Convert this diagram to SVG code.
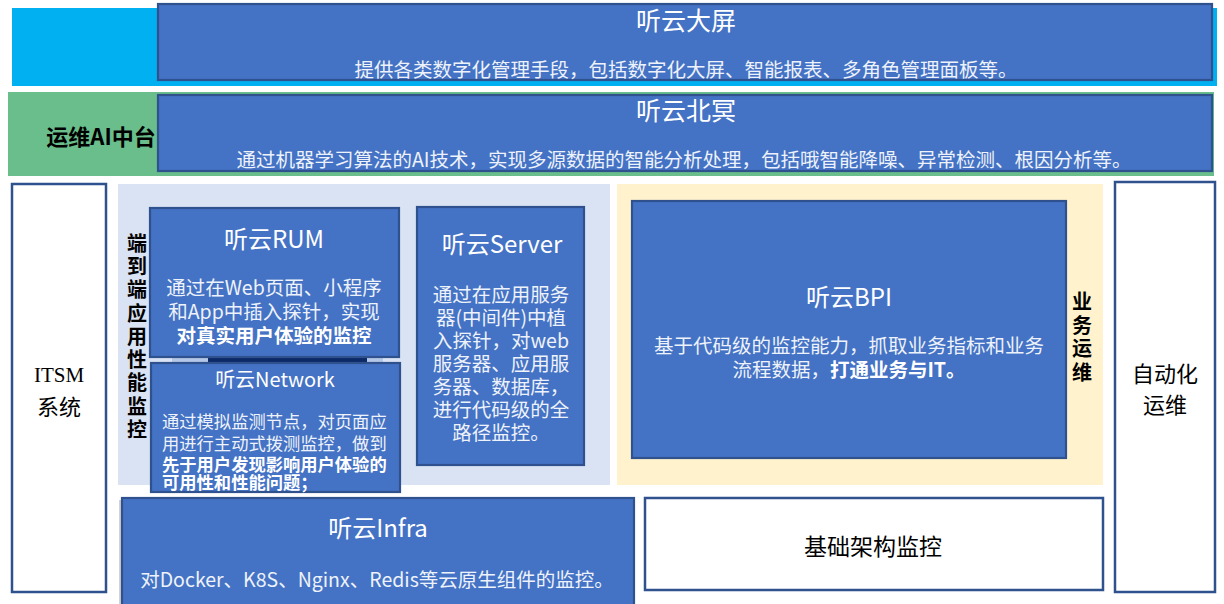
<svg xmlns="http://www.w3.org/2000/svg" width="1224" height="604" viewBox="0 0 1224 604">
<style>
text{font-family:"Noto Sans CJK SC","Noto Sans",sans-serif;dominant-baseline:central}
.box{fill:#4472C4;stroke:#2F528F;stroke-width:2.2}
.wbox{fill:#FFFFFF;stroke:#2F528F;stroke-width:2.5}
.t{fill:#FFFFFF;text-anchor:middle;font-size:25px}
.t24{font-size:24px}
.t20{font-size:20px}
.d{fill:#EEF2FA;text-anchor:middle;font-size:19.5px}
.n{fill:#EEF2FA;font-size:17.3px}
.b{font-weight:bold;fill:#FFFFFF}
.lbl{fill:#000000;font-weight:bold;font-size:20px;text-anchor:middle}
.big{font-size:22px}
.k{fill:#000000;text-anchor:middle;font-size:22px}
.k23{font-size:23px}
.serif{font-family:"Liberation Serif",serif;font-size:21px}
</style>
<rect width="1224" height="604" fill="#FFFFFF"/>
<g id="band-top">
<rect x="12" y="8" width="1205" height="78" fill="#00B0F0"/>
</g>
<g id="band-ai">
<rect x="8" y="92" width="1206" height="84" fill="#69BE8C"/>
<text x="101" y="135" class="lbl big">运维AI中台</text>
</g>
<g id="apm-bg">
<rect x="118" y="184" width="492" height="301" fill="#DAE3F3"/>
<g class="lbl"><text x="137" y="242">端</text><text x="137" y="265">到</text><text x="137" y="288">端</text><text x="137" y="312">应</text><text x="137" y="335">用</text><text x="137" y="358">性</text><text x="137" y="381">能</text><text x="137" y="405">监</text><text x="137" y="428">控</text></g>
</g>
<g id="biz-bg">
<rect x="617" y="184" width="486" height="301" fill="#FFF2CC"/>
<g class="lbl"><text x="1082" y="300">业</text><text x="1082" y="324">务</text><text x="1082" y="347">运</text><text x="1082" y="371">维</text></g>
</g>
<g id="dapin">
<rect class="box" x="158" y="4" width="1054" height="76"/>
<text class="t" x="686" y="19">听云大屏</text>
<text class="d" x="686" y="68">提供各类数字化管理手段，包括数字化大屏、智能报表、多角色管理面板等。</text>
</g>
<g id="beiming">
<rect class="box" x="158" y="95" width="1054" height="76"/>
<text class="t" x="686" y="109">听云北冥</text>
<text class="d" x="684" y="158">通过机器学习算法的AI技术，实现多源数据的智能分析处理，包括哦智能降噪、异常检测、根因分析等。</text>
</g>
<g id="itsm">
<rect class="wbox" x="12" y="184" width="94" height="408"/>
<text class="k serif" x="59" y="375">ITSM</text>
<text class="k" x="59" y="405">系统</text>
</g>
<g id="hidden-strip">
<rect x="172" y="357" width="211" height="8" fill="#B4C7E7"/>
<rect x="208" y="357" width="159" height="8" fill="#0C2A66"/>
</g>
<g id="rum">
<rect class="box" x="150" y="208" width="249" height="149"/>
<text class="t t24" x="274" y="237">听云RUM</text>
<text class="d" x="274" y="286">通过在Web页面、小程序</text>
<text class="d" x="274" y="310">和App中插入探针，实现</text>
<text class="d b" x="274" y="334">对真实用户体验的监控</text>
</g>
<g id="network">
<rect class="box" x="151" y="363" width="249" height="129"/>
<text class="t t20" x="275" y="378">听云Network</text>
<text class="n" x="162" y="420">通过模拟监测节点，对页面应</text>
<text class="n" x="162" y="442">用进行主动式拨测监控，做到</text>
<text class="n b" x="162" y="463">先于用户发现影响用户体验的</text>
<text class="n b" x="162" y="481">可用性和性能问题；</text>
</g>
<g id="server">
<rect class="box" x="417" y="207" width="167" height="258"/>
<text class="t t24" x="502" y="242">听云Server</text>
<text class="d" x="501" y="293">通过在应用服务</text>
<text class="d" x="501" y="316">器(中间件)中植</text>
<text class="d" x="501" y="339">入探针，对web</text>
<text class="d" x="501" y="362">服务器、应用服</text>
<text class="d" x="501" y="385">务器、数据库，</text>
<text class="d" x="501" y="408">进行代码级的全</text>
<text class="d" x="501" y="431">路径监控。</text>
</g>
<g id="bpi">
<rect class="box" x="632" y="201" width="434" height="257"/>
<text class="t t24" x="849" y="295">听云BPI</text>
<text class="d" x="849" y="344">基于代码级的监控能力，抓取业务指标和业务</text>
<text class="d" x="849" y="368">流程数据，<tspan class="b">打通业务与IT。</tspan></text>
</g>
<g id="infra">
<rect x="119" y="500" width="515" height="104" fill="#A6A6A6" opacity="0.5"/>
<rect class="box" x="122" y="498" width="512" height="108"/>
<text class="t t24" x="378" y="526">听云Infra</text>
<text class="d" x="377" y="578">对Docker、K8S、Nginx、Redis等云原生组件的监控。</text>
</g>
<g id="infra-monitor">
<rect class="wbox" x="645" y="498" width="458" height="92"/>
<text class="k k23" x="873" y="545">基础架构监控</text>
</g>
<g id="auto-ops">
<rect class="wbox" x="1115" y="182" width="100" height="410"/>
<text class="k" x="1165" y="372">自动化</text>
<text class="k" x="1165" y="403">运维</text>
</g>
<g id="connectors"></g>
</svg>
